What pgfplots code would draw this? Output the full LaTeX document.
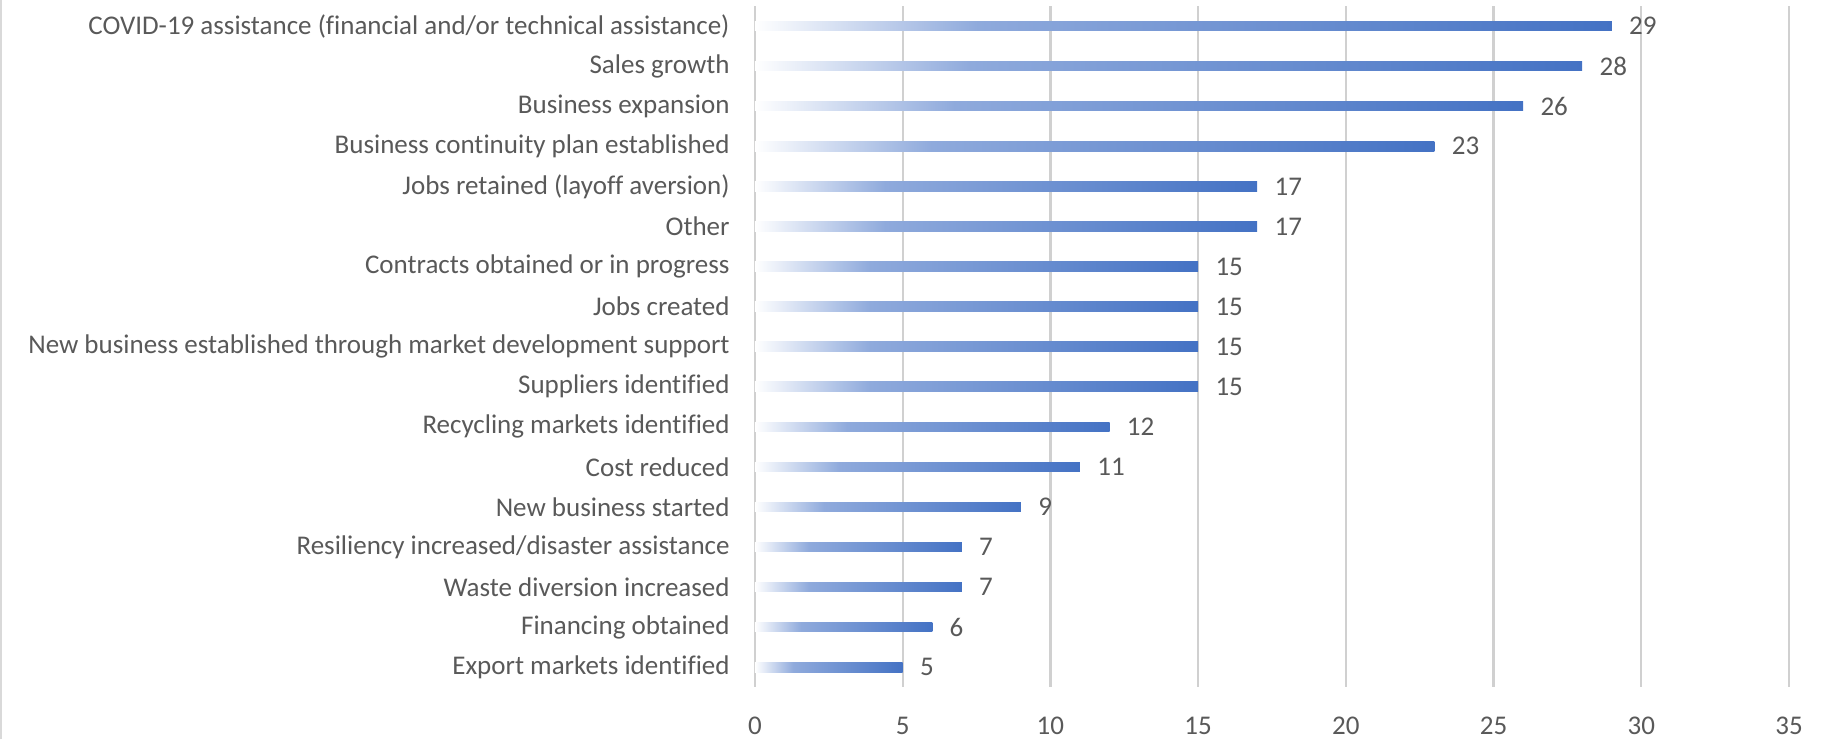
\documentclass[border=0pt]{standalone}
\usepackage{pgfplots}
\pgfplotsset{compat=1.18}
\usepackage{fontspec}
\setmainfont{Carlito}[Ligatures=NoCommon]
\definecolor{textgray}{HTML}{595959}
\definecolor{gridgray}{HTML}{D0D0D0}
\definecolor{bordergray}{HTML}{D9D9D9}
\definecolor{gwhite}{HTML}{FFFFFF}
\definecolor{glight}{HTML}{8FAADC}
\definecolor{gdark}{HTML}{4472C4}
\pgfdeclarehorizontalshading{bargrad}{100bp}{color(0bp)=(gwhite); color(25bp)=(gwhite); color(38bp)=(glight); color(75bp)=(gdark); color(100bp)=(gdark)}
\pgfplotsset{gbar/.style={xbar, bar width=4.75pt, bar shift=0pt, draw=none, shade, shading=bargrad,
  point meta=x,
  nodes near coords={\pgfmathprintnumber{\pgfplotspointmeta}},
  nodes near coords align={horizontal},
  every node near coord/.append style={anchor=west, xshift=8.5pt, inner sep=0pt,
     font=\fontsize{13.5}{16}\selectfont, text=textgray, /pgf/number format/assume math mode=true}}}
\begin{document}
\begin{tikzpicture}
\useasboundingbox (-377.5pt,-25.85pt) rectangle (534pt,343.65pt);
\draw[bordergray, line width=1pt] (-376.9pt,-25.85pt) -- (-376.9pt,343.65pt);
\begin{axis}[
  at={(0pt,0pt)}, anchor=south west,
  scale only axis,
  width=517pt, height=340.65pt,
  xmin=0, xmax=35,
  ymin=-0.5, ymax=16.5,
  y dir=reverse,
  xtick={0,5,...,35},
  ytick={0,...,16},
  yticklabels={
    {COVID-19 assistance (financial and/or technical assistance)},
    {Sales growth},
    {Business expansion\ },
    {Business continuity plan established},
    {Jobs retained (layoff aversion)},
    {Other\ },
    {Contracts obtained or in progress},
    {Jobs created},
    {New business established through market development support},
    {Suppliers identified},
    {Recycling markets identified},
    {Cost reduced},
    {New business started},
    {Resiliency increased/disaster assistance},
    {Waste diversion increased},
    {Financing obtained},
    {Export markets identified\ }},
  axis line style={draw=none},
  major tick length=0pt,
  xmajorgrids,
  major grid style={line width=1.2pt, gridgray},
  /pgf/number format/assume math mode=true,
  tick label style={font=\fontsize{13.5}{16}\selectfont, text=textgray, inner sep=0pt},
  yticklabel style={anchor=east, xshift=-12.5pt},
  xticklabel style={anchor=north, yshift=-14.7pt},
  clip=false,
]
\addplot[gbar] coordinates {(29,0)};
\addplot[gbar] coordinates {(28,1)};
\addplot[gbar] coordinates {(26,2)};
\addplot[gbar] coordinates {(23,3)};
\addplot[gbar] coordinates {(17,4)};
\addplot[gbar] coordinates {(17,5)};
\addplot[gbar] coordinates {(15,6)};
\addplot[gbar] coordinates {(15,7)};
\addplot[gbar] coordinates {(15,8)};
\addplot[gbar] coordinates {(15,9)};
\addplot[gbar] coordinates {(12,10)};
\addplot[gbar] coordinates {(11,11)};
\addplot[gbar] coordinates {(9,12)};
\addplot[gbar] coordinates {(7,13)};
\addplot[gbar] coordinates {(7,14)};
\addplot[gbar] coordinates {(6,15)};
\addplot[gbar] coordinates {(5,16)};
\end{axis}
\end{tikzpicture}
\end{document}
